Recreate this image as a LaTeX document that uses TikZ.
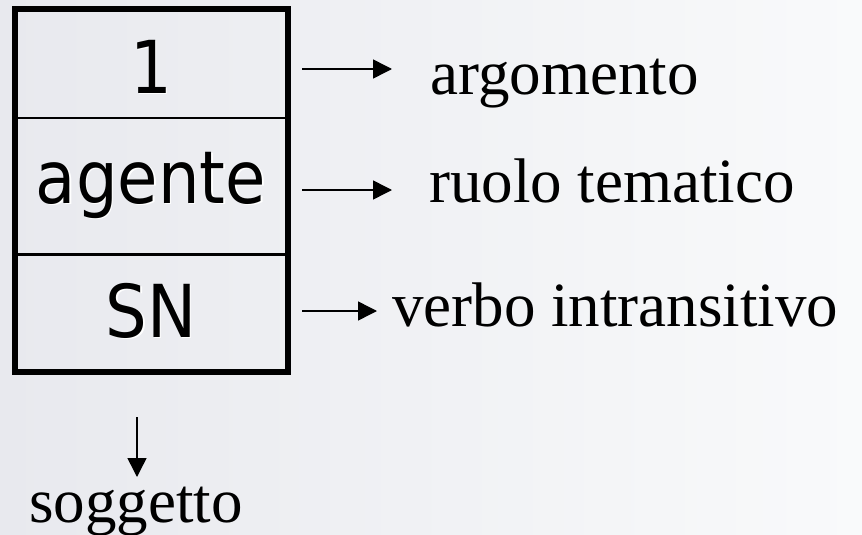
\documentclass[tikz,border=0pt]{standalone}
\usepackage{fontspec}
\setmainfont{Liberation Serif}
\newfontfamily\boxfont{DejaVu Sans Condensed}
\usetikzlibrary{arrows.meta}
\definecolor{bgL}{RGB}{232,233,238}
\definecolor{bgR}{RGB}{249,250,251}
\tikzset{
  cellfont/.style={font=\boxfont\fontsize{73}{80}\selectfont, inner sep=0pt, anchor=base},
  shadowtxt/.style={cellfont, text=white},
  lbl/.style={font=\fontsize{63}{70}\selectfont, inner sep=0pt, anchor=base west},
  lblc/.style={font=\fontsize{63}{70}\selectfont, inner sep=0pt, anchor=base},
  arr/.style={line width=1.5pt, -{Triangle[length=19pt,width=19pt]}},
  outer/.style={line width=6pt},
  divider/.style={line width=2.5pt}
}
\begin{document}
\begin{tikzpicture}[x=1pt,y=-1pt]
\shade[left color=bgL, right color=bgR] (0,0) rectangle (862,535);
\useasboundingbox (0,0) rectangle (862,535);
% box
\draw[outer] (15,9) rectangle (287.5,371.5);
\draw[divider] (15,118) -- (287.5,118);
\draw[divider] (15,254.5) -- (287.5,254.5);
% cell texts (with white shadow)
\node[shadowtxt] at (152.5,94.5) {1};
\node[cellfont] (c1) at (151,93) {1};
\node[shadowtxt] at (152.5,204.5) {agente};
\node[cellfont] (c2) at (151,203) {agente};
\node[shadowtxt] at (152.5,338.5) {SN};
\node[cellfont] (c3) at (151,337) {SN};
% labels
\node[lbl] (t1) at (430,95) {argomento};
\node[lbl] (t2) at (429,202) {ruolo tematico};
\node[lbl] (t3) at (392,326) {verbo intransitivo};
\node[lblc] (t4) at (136,522) {soggetto};
% connector coordinates
\coordinate (s1) at (302,69);
\coordinate (e1) at (392,69);
\coordinate (s2) at (302,190);
\coordinate (e2) at (392,190);
\coordinate (s3) at (302,311);
\coordinate (e3) at (377,311);
\coordinate (s4) at (137,417);
\coordinate (e4) at (137,477);
\draw[arr] (s1) -- (e1);
\draw[arr] (s2) -- (e2);
\draw[arr] (s3) -- (e3);
\draw[arr] (s4) -- (e4);
\end{tikzpicture}
\end{document}
